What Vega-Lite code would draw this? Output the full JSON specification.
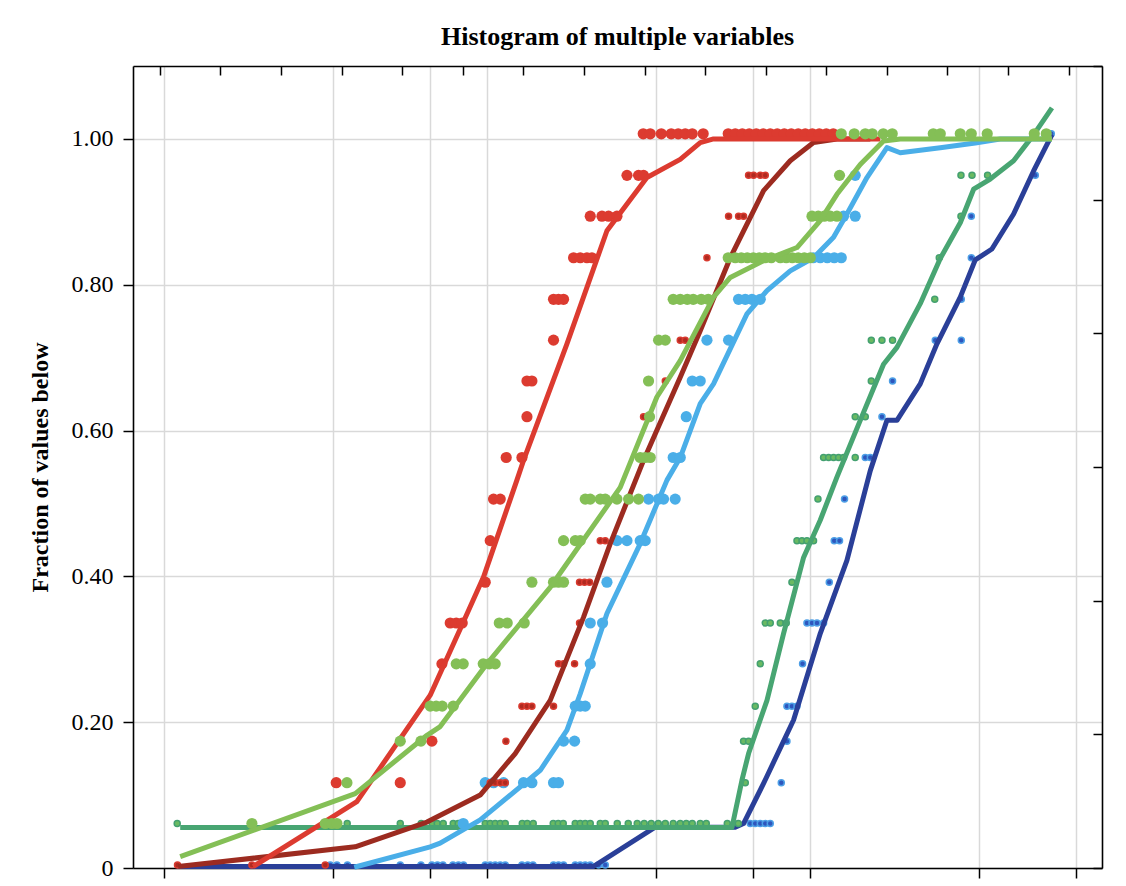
{
  "$schema": "https://vega.github.io/schema/vega-lite/v6.json",
  "width": 969,
  "height": 802,
  "autosize": {"type": "none"},
  "padding": {"left": 133, "top": 66, "right": 24, "bottom": 18},
  "background": "white",
  "title": {
    "text": "Histogram of multiple variables",
    "anchor": "middle",
    "frame": "group",
    "font": "Liberation Serif",
    "fontSize": 26,
    "fontWeight": "bold",
    "color": "black",
    "baseline": "bottom",
    "offset": 15,
    "dy": 28
  },
  "datasets": {
    "dots": [
      {"s":"red","x":10.22,"y":0.117},{"s":"red","x":16.13,"y":0.117},
      {"s":"red","x":20.21,"y":0.174},
      {"s":"red","x":21.71,"y":0.28},
      {"s":"red","x":23.03,"y":0.336},{"s":"red","x":24.04,"y":0.336},{"s":"red","x":25.09,"y":0.336},
      {"s":"red","x":29.56,"y":0.392},
      {"s":"red","x":30.63,"y":0.449},
      {"s":"red","x":31.36,"y":0.506},{"s":"red","x":32.9,"y":0.506},
      {"s":"red","x":34.33,"y":0.563},{"s":"red","x":38.4,"y":0.563},
      {"s":"red","x":39.8,"y":0.619},
      {"s":"red","x":39.8,"y":0.668},{"s":"red","x":41.23,"y":0.668},
      {"s":"red","x":48.1,"y":0.724},
      {"s":"red","x":48.1,"y":0.78},{"s":"red","x":49.84,"y":0.78},{"s":"red","x":51.66,"y":0.78},
      {"s":"red","x":55.49,"y":0.837},{"s":"red","x":58.19,"y":0.837},{"s":"red","x":61.04,"y":0.837},{"s":"red","x":63.25,"y":0.837},
      {"s":"red","x":62.49,"y":0.894},{"s":"red","x":67.94,"y":0.894},{"s":"red","x":71.21,"y":0.894},{"s":"red","x":75.59,"y":0.894},
      {"s":"red","x":81.2,"y":0.95},{"s":"red","x":88.17,"y":0.95},{"s":"red","x":91.37,"y":0.95},
      {"s":"red","x":91.17,"y":1.007},{"s":"red","x":95.84,"y":1.007},{"s":"red","x":103.7,"y":1.007},{"s":"red","x":111.3,"y":1.007},
      {"s":"red","x":117.0,"y":1.007},{"s":"red","x":123.0,"y":1.007},{"s":"red","x":129.3,"y":1.007},{"s":"red","x":139.8,"y":1.007},
      {"s":"red","x":167.1,"y":1.007},{"s":"red","x":175.7,"y":1.007},{"s":"red","x":184.7,"y":1.007},{"s":"red","x":194.1,"y":1.007},
      {"s":"red","x":204.1,"y":1.007},{"s":"red","x":214.5,"y":1.007},{"s":"red","x":225.5,"y":1.007},{"s":"red","x":237.0,"y":1.007},
      {"s":"red","x":249.2,"y":1.007},{"s":"red","x":261.9,"y":1.007},{"s":"red","x":275.3,"y":1.007},{"s":"red","x":289.4,"y":1.007},
      {"s":"red","x":304.3,"y":1.007},{"s":"red","x":319.8,"y":1.007},{"s":"red","x":336.2,"y":1.007},{"s":"red","x":353.3,"y":1.007},

      {"s":"maroon","x":3.296,"y":0.004},{"s":"maroon","x":5.602,"y":0.004},{"s":"maroon","x":9.449,"y":0.004},
      {"s":"maroon","x":30.63,"y":0.117},{"s":"maroon","x":31.74,"y":0.117},{"s":"maroon","x":32.9,"y":0.117},{"s":"maroon","x":34.09,"y":0.117},
      {"s":"maroon","x":34.26,"y":0.174},
      {"s":"maroon","x":38.4,"y":0.222},{"s":"maroon","x":39.8,"y":0.222},{"s":"maroon","x":41.23,"y":0.222},{"s":"maroon","x":48.1,"y":0.222},
      {"s":"maroon","x":49.84,"y":0.28},{"s":"maroon","x":51.66,"y":0.28},{"s":"maroon","x":55.88,"y":0.28},
      {"s":"maroon","x":57.9,"y":0.336},
      {"s":"maroon","x":57.9,"y":0.392},{"s":"maroon","x":60.0,"y":0.392},{"s":"maroon","x":62.18,"y":0.392},
      {"s":"maroon","x":67.12,"y":0.449},{"s":"maroon","x":69.55,"y":0.449},
      {"s":"maroon","x":91.37,"y":0.619},
      {"s":"maroon","x":106.7,"y":0.668},
      {"s":"maroon","x":118.7,"y":0.724},{"s":"maroon","x":123.0,"y":0.724},
      {"s":"maroon","x":143.6,"y":0.837},
      {"s":"maroon","x":167.5,"y":0.894},{"s":"maroon","x":179.9,"y":0.894},{"s":"maroon","x":186.4,"y":0.894},
      {"s":"maroon","x":193.2,"y":0.95},{"s":"maroon","x":200.2,"y":0.95},{"s":"maroon","x":210.0,"y":0.95},{"s":"maroon","x":217.6,"y":0.95},

      {"s":"lime","x":5.602,"y":0.061},{"s":"lime","x":9.449,"y":0.061},{"s":"lime","x":9.908,"y":0.061},{"s":"lime","x":10.27,"y":0.061},
      {"s":"lime","x":11.03,"y":0.117},
      {"s":"lime","x":16.13,"y":0.174},{"s":"lime","x":18.69,"y":0.174},
      {"s":"lime","x":19.97,"y":0.222},{"s":"lime","x":20.84,"y":0.222},{"s":"lime","x":21.75,"y":0.222},{"s":"lime","x":23.53,"y":0.222},
      {"s":"lime","x":24.04,"y":0.28},{"s":"lime","x":25.27,"y":0.28},{"s":"lime","x":29.14,"y":0.28},{"s":"lime","x":30.41,"y":0.28},{"s":"lime","x":31.74,"y":0.28},
      {"s":"lime","x":32.67,"y":0.336},{"s":"lime","x":34.58,"y":0.336},{"s":"lime","x":39.04,"y":0.336},
      {"s":"lime","x":41.23,"y":0.392},{"s":"lime","x":48.1,"y":0.392},{"s":"lime","x":49.84,"y":0.392},{"s":"lime","x":51.66,"y":0.392},
      {"s":"lime","x":51.66,"y":0.449},{"s":"lime","x":56.15,"y":0.449},{"s":"lime","x":58.19,"y":0.449},
      {"s":"lime","x":60.3,"y":0.506},{"s":"lime","x":62.49,"y":0.506},{"s":"lime","x":67.12,"y":0.506},{"s":"lime","x":69.55,"y":0.506},
      {"s":"lime","x":75.59,"y":0.506},{"s":"lime","x":82.13,"y":0.506},{"s":"lime","x":88.17,"y":0.506},
      {"s":"lime","x":89.25,"y":0.563},{"s":"lime","x":92.48,"y":0.563},{"s":"lime","x":95.84,"y":0.563},
      {"s":"lime","x":95.35,"y":0.619},
      {"s":"lime","x":94.69,"y":0.668},
      {"s":"lime","x":101.7,"y":0.724},{"s":"lime","x":106.7,"y":0.724},
      {"s":"lime","x":112.9,"y":0.78},{"s":"lime","x":118.7,"y":0.78},{"s":"lime","x":124.8,"y":0.78},{"s":"lime","x":130.2,"y":0.78},{"s":"lime","x":137.9,"y":0.78},{"s":"lime","x":144.9,"y":0.78},
      {"s":"lime","x":167.1,"y":0.837},{"s":"lime","x":175.7,"y":0.837},{"s":"lime","x":183.4,"y":0.837},{"s":"lime","x":191.4,"y":0.837},
      {"s":"lime","x":199.8,"y":0.837},{"s":"lime","x":208.5,"y":0.837},{"s":"lime","x":217.6,"y":0.837},{"s":"lime","x":227.2,"y":0.837},
      {"s":"lime","x":242.2,"y":0.837},{"s":"lime","x":252.7,"y":0.837},{"s":"lime","x":263.8,"y":0.837},{"s":"lime","x":275.3,"y":0.837},
      {"s":"lime","x":287.4,"y":0.837},{"s":"lime","x":299.9,"y":0.837},
      {"s":"lime","x":303.6,"y":0.894},{"s":"lime","x":317.5,"y":0.894},{"s":"lime","x":331.4,"y":0.894},{"s":"lime","x":345.9,"y":0.894},{"s":"lime","x":362.7,"y":0.894},
      {"s":"lime","x":369.5,"y":0.95},
      {"s":"lime","x":374.1,"y":1.007},{"s":"lime","x":410.4,"y":1.007},{"s":"lime","x":443.9,"y":1.007},{"s":"lime","x":466.6,"y":1.007},
      {"s":"lime","x":504.6,"y":1.007},{"s":"lime","x":538.0,"y":1.007},{"s":"lime","x":720.8,"y":1.007},{"s":"lime","x":757.7,"y":1.007},
      {"s":"lime","x":873.8,"y":1.007},{"s":"lime","x":945.3,"y":1.007},{"s":"lime","x":1059,"y":1.007},{"s":"lime","x":1481,"y":1.007},{"s":"lime","x":1613,"y":1.007},

      {"s":"sky","x":25.27,"y":0.061},
      {"s":"sky","x":29.56,"y":0.117},{"s":"sky","x":31.36,"y":0.117},{"s":"sky","x":33.68,"y":0.117},{"s":"sky","x":38.84,"y":0.117},
      {"s":"sky","x":41.23,"y":0.117},{"s":"sky","x":48.1,"y":0.117},{"s":"sky","x":49.84,"y":0.117},
      {"s":"sky","x":51.66,"y":0.174},{"s":"sky","x":55.88,"y":0.174},
      {"s":"sky","x":56.15,"y":0.222},{"s":"sky","x":58.19,"y":0.222},{"s":"sky","x":60.3,"y":0.222},
      {"s":"sky","x":62.49,"y":0.28},
      {"s":"sky","x":62.49,"y":0.336},{"s":"sky","x":68.23,"y":0.336},
      {"s":"sky","x":70.39,"y":0.392},
      {"s":"sky","x":75.59,"y":0.449},{"s":"sky","x":81.2,"y":0.449},{"s":"sky","x":89.25,"y":0.449},{"s":"sky","x":92.48,"y":0.449},
      {"s":"sky","x":94.69,"y":0.506},{"s":"sky","x":101.7,"y":0.506},{"s":"sky","x":105.4,"y":0.506},{"s":"sky","x":114.5,"y":0.506},
      {"s":"sky","x":112.9,"y":0.563},{"s":"sky","x":118.7,"y":0.563},
      {"s":"sky","x":123.9,"y":0.619},
      {"s":"sky","x":129.3,"y":0.668},{"s":"sky","x":136.9,"y":0.668},
      {"s":"sky","x":143.6,"y":0.724},{"s":"sky","x":167.5,"y":0.724},
      {"s":"sky","x":179.9,"y":0.78},{"s":"sky","x":188.7,"y":0.78},{"s":"sky","x":197.9,"y":0.78},{"s":"sky","x":210.0,"y":0.78},
      {"s":"sky","x":306.4,"y":0.837},{"s":"sky","x":322.0,"y":0.837},{"s":"sky","x":338.6,"y":0.837},{"s":"sky","x":355.8,"y":0.837},{"s":"sky","x":374.1,"y":0.837},
      {"s":"sky","x":380.2,"y":0.894},{"s":"sky","x":413.2,"y":0.894},
      {"s":"sky","x":413.2,"y":0.95},

      {"s":"green","x":3.289,"y":0.061},{"s":"green","x":11.05,"y":0.061},{"s":"green","x":16.13,"y":0.061},{"s":"green","x":18.73,"y":0.061},
      {"s":"green","x":20.26,"y":0.061},{"s":"green","x":20.99,"y":0.061},{"s":"green","x":21.91,"y":0.061},{"s":"green","x":23.53,"y":0.061},
      {"s":"green","x":24.38,"y":0.061},{"s":"green","x":25.27,"y":0.061},{"s":"green","x":29.56,"y":0.061},{"s":"green","x":30.63,"y":0.061},
      {"s":"green","x":31.74,"y":0.061},{"s":"green","x":32.9,"y":0.061},{"s":"green","x":34.09,"y":0.061},{"s":"green","x":38.49,"y":0.061},
      {"s":"green","x":39.89,"y":0.061},{"s":"green","x":41.62,"y":0.061},{"s":"green","x":48.0,"y":0.061},{"s":"green","x":49.74,"y":0.061},
      {"s":"green","x":51.55,"y":0.061},{"s":"green","x":56.15,"y":0.061},{"s":"green","x":58.19,"y":0.061},{"s":"green","x":60.3,"y":0.061},
      {"s":"green","x":62.49,"y":0.061},{"s":"green","x":67.12,"y":0.061},{"s":"green","x":69.55,"y":0.061},{"s":"green","x":75.76,"y":0.061},
      {"s":"green","x":81.93,"y":0.061},{"s":"green","x":87.35,"y":0.061},{"s":"green","x":91.82,"y":0.061},{"s":"green","x":96.52,"y":0.061},
      {"s":"green","x":101.5,"y":0.061},{"s":"green","x":106.7,"y":0.061},{"s":"green","x":112.9,"y":0.061},{"s":"green","x":118.7,"y":0.061},
      {"s":"green","x":123.9,"y":0.061},{"s":"green","x":129.3,"y":0.061},{"s":"green","x":136.9,"y":0.061},{"s":"green","x":142.9,"y":0.061},
      {"s":"green","x":166.0,"y":0.061},{"s":"green","x":179.5,"y":0.061},
      {"s":"green","x":188.7,"y":0.117},
      {"s":"green","x":186.4,"y":0.174},{"s":"green","x":193.2,"y":0.174},
      {"s":"green","x":202.6,"y":0.222},
      {"s":"green","x":210.0,"y":0.28},
      {"s":"green","x":217.6,"y":0.336},{"s":"green","x":225.5,"y":0.336},{"s":"green","x":242.2,"y":0.336},{"s":"green","x":252.7,"y":0.336},
      {"s":"green","x":263.2,"y":0.392},
      {"s":"green","x":272.8,"y":0.449},{"s":"green","x":282.7,"y":0.449},{"s":"green","x":292.9,"y":0.449},{"s":"green","x":307.0,"y":0.449},
      {"s":"green","x":316.8,"y":0.506},
      {"s":"green","x":329.8,"y":0.563},{"s":"green","x":341.8,"y":0.563},{"s":"green","x":354.1,"y":0.563},{"s":"green","x":366.9,"y":0.563},
      {"s":"green","x":380.2,"y":0.563},{"s":"green","x":413.2,"y":0.563},
      {"s":"green","x":413.2,"y":0.619},{"s":"green","x":443.9,"y":0.619},
      {"s":"green","x":463.4,"y":0.668},
      {"s":"green","x":463.4,"y":0.724},{"s":"green","x":500.0,"y":0.724},{"s":"green","x":539.2,"y":0.724},
      {"s":"green","x":728.5,"y":0.78},
      {"s":"green","x":752.3,"y":0.837},
      {"s":"green","x":878.2,"y":0.894},
      {"s":"green","x":878.2,"y":0.95},{"s":"green","x":950.1,"y":0.95},{"s":"green","x":1061.6,"y":0.95},

      {"s":"navy","x":9.79,"y":0.004},{"s":"navy","x":10.27,"y":0.004},{"s":"navy","x":11.07,"y":0.004},{"s":"navy","x":16.13,"y":0.004},
      {"s":"navy","x":18.69,"y":0.004},{"s":"navy","x":20.21,"y":0.004},{"s":"navy","x":21.03,"y":0.004},{"s":"navy","x":21.86,"y":0.004},
      {"s":"navy","x":23.48,"y":0.004},{"s":"navy","x":24.43,"y":0.004},{"s":"navy","x":25.32,"y":0.004},{"s":"navy","x":29.56,"y":0.004},
      {"s":"navy","x":30.63,"y":0.004},{"s":"navy","x":31.74,"y":0.004},{"s":"navy","x":32.9,"y":0.004},{"s":"navy","x":34.09,"y":0.004},
      {"s":"navy","x":38.4,"y":0.004},{"s":"navy","x":40.02,"y":0.004},{"s":"navy","x":41.53,"y":0.004},{"s":"navy","x":48.1,"y":0.004},
      {"s":"navy","x":49.84,"y":0.004},{"s":"navy","x":51.66,"y":0.004},{"s":"navy","x":56.15,"y":0.004},{"s":"navy","x":58.19,"y":0.004},
      {"s":"navy","x":60.3,"y":0.004},{"s":"navy","x":62.49,"y":0.004},{"s":"navy","x":66.29,"y":0.004},{"s":"navy","x":69.55,"y":0.004},
      {"s":"navy","x":195.5,"y":0.061},{"s":"navy","x":202.6,"y":0.061},{"s":"navy","x":210.0,"y":0.061},{"s":"navy","x":217.6,"y":0.061},{"s":"navy","x":225.5,"y":0.061},
      {"s":"navy","x":243.9,"y":0.117},
      {"s":"navy","x":254.0,"y":0.174},
      {"s":"navy","x":254.0,"y":0.222},{"s":"navy","x":263.2,"y":0.222},{"s":"navy","x":272.8,"y":0.222},
      {"s":"navy","x":283.9,"y":0.28},
      {"s":"navy","x":292.9,"y":0.336},{"s":"navy","x":303.6,"y":0.336},{"s":"navy","x":314.6,"y":0.336},{"s":"navy","x":329.8,"y":0.336},
      {"s":"navy","x":343.4,"y":0.392},
      {"s":"navy","x":355.8,"y":0.449},{"s":"navy","x":369.5,"y":0.449},
      {"s":"navy","x":382.9,"y":0.506},
      {"s":"navy","x":443.9,"y":0.563},{"s":"navy","x":460.1,"y":0.563},
      {"s":"navy","x":500.0,"y":0.619},
      {"s":"navy","x":539.2,"y":0.668},
      {"s":"navy","x":731.2,"y":0.724},{"s":"navy","x":880.1,"y":0.724},
      {"s":"navy","x":880.1,"y":0.78},
      {"s":"navy","x":945.3,"y":0.837},
      {"s":"navy","x":945.3,"y":0.894},
      {"s":"navy","x":1491.7,"y":0.95},
      {"s":"navy","x":1671.8,"y":1.007}
    ],
    "curves": [
      {"s":"red","x":5.653,"y":0.002},{"s":"red","x":11.84,"y":0.091},{"s":"red","x":19.97,"y":0.237},{"s":"red","x":25.03,"y":0.333},
      {"s":"red","x":29.2,"y":0.399},{"s":"red","x":37.05,"y":0.532},{"s":"red","x":38.84,"y":0.559},{"s":"red","x":52.93,"y":0.719},
      {"s":"red","x":70.39,"y":0.874},{"s":"red","x":93.61,"y":0.947},{"s":"red","x":118.7,"y":0.972},{"s":"red","x":136.9,"y":0.995},
      {"s":"red","x":150.5,"y":1.0},{"s":"red","x":494,"y":1.0},

      {"s":"maroon","x":3.312,"y":0.002},{"s":"maroon","x":11.7,"y":0.029},{"s":"maroon","x":19.51,"y":0.063},{"s":"maroon","x":28.52,"y":0.1},
      {"s":"maroon","x":36.61,"y":0.157},{"s":"maroon","x":46.98,"y":0.23},{"s":"maroon","x":59.58,"y":0.344},{"s":"maroon","x":72.08,"y":0.445},
      {"s":"maroon","x":91.37,"y":0.559},{"s":"maroon","x":118.7,"y":0.673},{"s":"maroon","x":136.9,"y":0.737},{"s":"maroon","x":169.6,"y":0.837},
      {"s":"maroon","x":215.0,"y":0.929},{"s":"maroon","x":260.0,"y":0.97},{"s":"maroon","x":307.0,"y":0.995},{"s":"maroon","x":362.7,"y":1.0},
      {"s":"maroon","x":460.1,"y":1.0},

      {"s":"lime","x":3.36,"y":0.0155},{"s":"lime","x":11.7,"y":0.102},{"s":"lime","x":19.51,"y":0.182},{"s":"lime","x":21.44,"y":0.194},
      {"s":"lime","x":29.92,"y":0.28},{"s":"lime","x":46.98,"y":0.385},{"s":"lime","x":77.39,"y":0.522},{"s":"lime","x":100.5,"y":0.646},
      {"s":"lime","x":118.7,"y":0.696},{"s":"lime","x":150.5,"y":0.783},{"s":"lime","x":169.6,"y":0.81},{"s":"lime","x":215.0,"y":0.833},
      {"s":"lime","x":272.8,"y":0.851},{"s":"lime","x":322.0,"y":0.888},{"s":"lime","x":362.7,"y":0.924},{"s":"lime","x":428.3,"y":0.965},
      {"s":"lime","x":505.7,"y":0.997},{"s":"lime","x":569.7,"y":1.0},{"s":"lime","x":1680,"y":1.0},

      {"s":"sky","x":11.62,"y":0.001},{"s":"sky","x":19.97,"y":0.029},{"s":"sky","x":21.44,"y":0.034},{"s":"sky","x":28.52,"y":0.066},
      {"s":"sky","x":43.75,"y":0.134},{"s":"sky","x":52.93,"y":0.189},{"s":"sky","x":58.19,"y":0.239},{"s":"sky","x":70.39,"y":0.349},
      {"s":"sky","x":89.25,"y":0.445},{"s":"sky","x":108.0,"y":0.532},{"s":"sky","x":118.7,"y":0.563},{"s":"sky","x":136.9,"y":0.637},
      {"s":"sky","x":150.5,"y":0.664},{"s":"sky","x":191.0,"y":0.76},{"s":"sky","x":220.3,"y":0.792},{"s":"sky","x":260.0,"y":0.819},
      {"s":"sky","x":307.0,"y":0.837},{"s":"sky","x":354.1,"y":0.865},{"s":"sky","x":389.5,"y":0.897},{"s":"sky","x":449.3,"y":0.947},
      {"s":"sky","x":518.1,"y":0.988},{"s":"sky","x":569.7,"y":0.981},{"s":"sky","x":757.7,"y":0.988},{"s":"sky","x":972.4,"y":0.9945},
      {"s":"sky","x":1162,"y":1.0},{"s":"sky","x":1680,"y":1.0},

      {"s":"green","x":3.36,"y":0.0555},{"s":"green","x":171.6,"y":0.0555},{"s":"green","x":184.3,"y":0.1205},{"s":"green","x":193.2,"y":0.157},
      {"s":"green","x":220.3,"y":0.23},{"s":"green","x":247.9,"y":0.3215},{"s":"green","x":286.0,"y":0.426},{"s":"green","x":322.0,"y":0.477},
      {"s":"green","x":362.7,"y":0.536},{"s":"green","x":428.3,"y":0.614},{"s":"green","x":505.7,"y":0.691},{"s":"green","x":556.4,"y":0.714},
      {"s":"green","x":656.9,"y":0.774},{"s":"green","x":757.7,"y":0.836},{"s":"green","x":873.8,"y":0.885},{"s":"green","x":961.0,"y":0.931},
      {"s":"green","x":1082,"y":0.945},{"s":"green","x":1278,"y":0.97},{"s":"green","x":1473.6,"y":1.0055},{"s":"green","x":1680,"y":1.0425},

      {"s":"navy","x":3.289,"y":0.002},{"s":"navy","x":63.84,"y":0.002},{"s":"navy","x":99.3,"y":0.056},{"s":"navy","x":175.7,"y":0.056},
      {"s":"navy","x":186.4,"y":0.061},{"s":"navy","x":215.0,"y":0.116},{"s":"navy","x":266.3,"y":0.203},{"s":"navy","x":322.0,"y":0.3215},
      {"s":"navy","x":389.5,"y":0.422},{"s":"navy","x":460.1,"y":0.545},{"s":"navy","x":518.1,"y":0.614},{"s":"navy","x":556.4,"y":0.614},
      {"s":"navy","x":656.9,"y":0.664},{"s":"navy","x":740.0,"y":0.719},{"s":"navy","x":873.8,"y":0.783},{"s":"navy","x":972.4,"y":0.834},
      {"s":"navy","x":1095,"y":0.849},{"s":"navy","x":1278,"y":0.897},{"s":"navy","x":1473.6,"y":0.956},{"s":"navy","x":1680,"y":1.006}
    ]
  },
  "layer": [
    {
      "encoding": {
        "x": {
          "field": "x",
          "type": "quantitative",
          "scale": {"type": "log", "domain": [2.4, 2400], "nice": false},
          "axis": {
            "orient": "bottom",
            "values": [3, 10, 20, 30, 100, 200, 300, 1000, 2000],
            "labels": false,
            "tickSize": 10,
            "grid": true,
            "title": null
          }
        },
        "y": {
          "field": "y",
          "type": "quantitative",
          "scale": {"domain": [0, 1.1], "nice": false, "zero": false},
          "axis": {
            "orient": "left",
            "values": [0, 0.2, 0.4, 0.6, 0.8, 1],
            "labelExpr": "datum.value === 0 ? '0' : format(datum.value, '.2f')",
            "tickSize": 10,
            "labelPadding": 10,
            "grid": true,
            "title": "Fraction of values below",
            "titleAngle": -90,
            "titleX": -86,
            "titleY": 401,
            "titleAlign": "center",
            "titleBaseline": "alphabetic"
          }
        }
      },
      "layer": [
        {"data": {"name": "dots"}, "transform": [{"filter": "datum.s === 'navy'"}],
         "mark": {"type": "circle", "fill": "#2e56bd", "stroke": "#4d9fe6", "strokeWidth": 1.5, "size": 36, "opacity": 1}},
        {"data": {"name": "curves"}, "transform": [{"filter": "datum.s === 'navy'"}],
         "mark": {"type": "line", "color": "#2a3f98", "strokeWidth": 5, "strokeJoin": "round"}},
        {"data": {"name": "dots"}, "transform": [{"filter": "datum.s === 'green'"}],
         "mark": {"type": "circle", "fill": "#6aba62", "stroke": "#43a070", "strokeWidth": 1.5, "size": 36, "opacity": 1}},
        {"data": {"name": "curves"}, "transform": [{"filter": "datum.s === 'green'"}],
         "mark": {"type": "line", "color": "#48a572", "strokeWidth": 5, "strokeJoin": "round"}},
        {"data": {"name": "dots"}, "transform": [{"filter": "datum.s === 'sky'"}],
         "mark": {"type": "circle", "fill": "#4aaee8", "size": 125, "opacity": 1}},
        {"data": {"name": "curves"}, "transform": [{"filter": "datum.s === 'sky'"}],
         "mark": {"type": "line", "color": "#4aaee8", "strokeWidth": 5, "strokeJoin": "round"}},
        {"data": {"name": "dots"}, "transform": [{"filter": "datum.s === 'maroon'"}],
         "mark": {"type": "circle", "fill": "#b02a20", "stroke": "#d83a2f", "strokeWidth": 1.5, "size": 36, "opacity": 1}},
        {"data": {"name": "curves"}, "transform": [{"filter": "datum.s === 'maroon'"}],
         "mark": {"type": "line", "color": "#9c2b20", "strokeWidth": 5, "strokeJoin": "round"}},
        {"data": {"name": "dots"}, "transform": [{"filter": "datum.s === 'red'"}],
         "mark": {"type": "circle", "fill": "#dc3b30", "size": 125, "opacity": 1}},
        {"data": {"name": "curves"}, "transform": [{"filter": "datum.s === 'red'"}],
         "mark": {"type": "line", "color": "#dc3b30", "strokeWidth": 5, "strokeJoin": "round"}},
        {"data": {"name": "dots"}, "transform": [{"filter": "datum.s === 'lime'"}],
         "mark": {"type": "circle", "fill": "#84bf56", "size": 125, "opacity": 1}},
        {"data": {"name": "curves"}, "transform": [{"filter": "datum.s === 'lime'"}],
         "mark": {"type": "line", "color": "#84bf56", "strokeWidth": 5, "strokeJoin": "round"}}
      ]
    },
    {
      "data": {"values": [{"t": 0, "r": 0}, {"t": 15, "r": 6}]},
      "mark": {"type": "point", "opacity": 0},
      "encoding": {
        "x": {
          "field": "t",
          "type": "quantitative",
          "scale": {"domain": [-0.444, 15.552], "nice": false, "zero": false},
          "axis": {"orient": "top", "values": [0,1,2,3,4,5,6,7,8,9,10,11,12,13,14,15], "labels": false, "grid": false, "tickSize": -9, "title": null}
        },
        "y": {
          "field": "r",
          "type": "quantitative",
          "scale": {"domain": [0, 6], "nice": false},
          "axis": {"orient": "right", "values": [0,1,2,3,4,5,6], "labels": false, "grid": false, "tickSize": -9, "title": null}
        }
      }
    }
  ],
  "resolve": {"scale": {"x": "independent", "y": "independent"}},
  "config": {
    "view": {"stroke": null},
    "font": "Liberation Serif",
    "axis": {
      "domainColor": "black",
      "domainWidth": 1.6,
      "tickColor": "black",
      "tickWidth": 1.5,
      "gridColor": "#d9d9d9",
      "gridWidth": 1.5,
      "labelFont": "Liberation Serif",
      "labelFontSize": 24,
      "labelColor": "black",
      "titleFont": "Liberation Serif",
      "titleFontSize": 24,
      "titleFontWeight": "bold",
      "titleColor": "black"
    }
  }
}
